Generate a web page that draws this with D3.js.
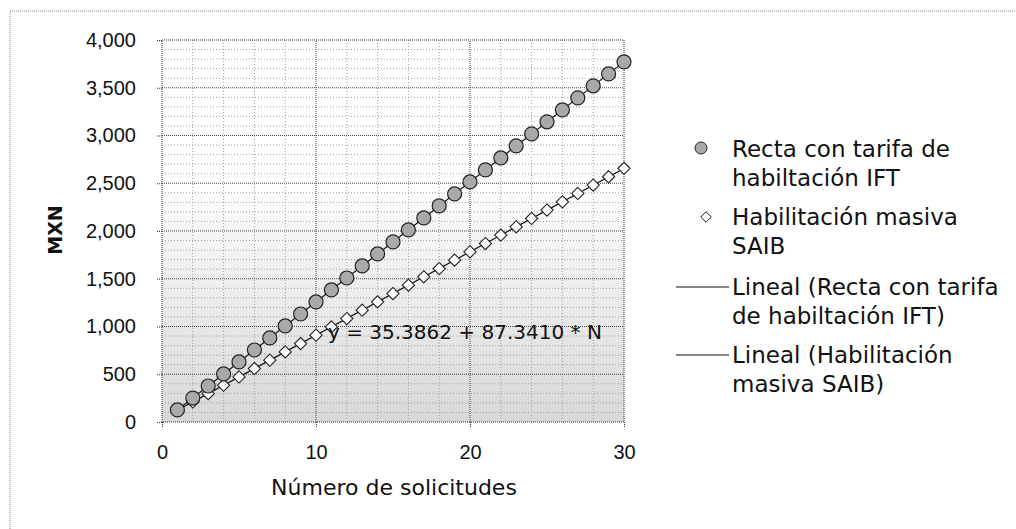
<!DOCTYPE html>
<html lang="es">
  <head>
    <meta charset="utf-8">
    <title>Recta IFT vs SAIB</title>
    <script src="https://cdn.jsdelivr.net/npm/d3@7/dist/d3.min.js"></script>
    <style>
      body { margin: 0; background: #fff; }
      svg { display: block; font-family: 'DejaVu Sans', sans-serif; }
      .tick-lbl { font-size: 20px; fill: #111; }
      .legend text { font-size: 23px; fill: #111; }
    </style>
  </head>
  <body>
    <svg></svg>
    <script>
    // datos
    var solicitudes = d3.range(1, 31);
    var rectaIFT = [126, 251, 377, 503, 629, 754, 880, 1006, 1131, 1257,
                    1383, 1508, 1634, 1760, 1886, 2011, 2137, 2263, 2388, 2514,
                    2640, 2765, 2891, 3017, 3143, 3268, 3394, 3520, 3645, 3771];
    var masivaSAIB = [123, 210, 297, 385, 472, 559, 647, 734, 821, 909,
                      996, 1083, 1171, 1258, 1345, 1433, 1520, 1607, 1695, 1782,
                      1869, 1957, 2044, 2131, 2219, 2306, 2393, 2481, 2568, 2656];
    var yTicks = [0, 500, 1000, 1500, 2000, 2500, 3000, 3500, 4000];
    var xTicks = [0, 10, 20, 30];
    var leyenda = [
      ['Recta con tarifa de', 'habiltación IFT'],
      ['Habilitación masiva', 'SAIB'],
      ['Lineal (Recta con tarifa', 'de habiltación IFT)'],
      ['Lineal (Habilitación', 'masiva SAIB)']
    ];
    var ecuacion = 'y = 35.3862 + 87.3410 * N';

    var width = 1016, height = 529;
    var svg = d3.select('svg').attr('width', width).attr('height', height);

    var x = d3.scaleLinear().domain([0, 30]).range([162, 624]);
    var y = d3.scaleLinear().domain([0, 4000]).range([422, 40]);

    // marco exterior punteado (se sale del recorte)
    svg.append('rect')
      .attr('x', 10).attr('y', 11).attr('width', 1100).attr('height', 600)
      .attr('fill', 'none').attr('stroke', '#888').attr('stroke-dasharray', '1,1');

    // fondo del area con degradado
    var grad = svg.append('defs').append('linearGradient')
      .attr('id', 'fondo').attr('x1', 0).attr('y1', 0).attr('x2', 0).attr('y2', 1);
    grad.append('stop').attr('offset', '0.35').attr('stop-color', '#ffffff');
    grad.append('stop').attr('offset', '1').attr('stop-color', '#d8d8d8');

    svg.append('rect')
      .attr('x', x(0)).attr('y', y(4000))
      .attr('width', x(30) - x(0)).attr('height', y(0) - y(4000))
      .attr('fill', 'url(#fondo)');

    var g = svg.append('g');

    // rejilla menor
    g.selectAll('.hmin').data(d3.range(100, 4000, 100).filter(function(d){ return d % 500; }))
      .enter().append('line')
      .attr('x1', x(0)).attr('x2', x(30))
      .attr('y1', function(d){ return y(d); }).attr('y2', function(d){ return y(d); })
      .attr('stroke', '#a0a0a0').attr('stroke-dasharray', '1,2');
    g.selectAll('.vmin').data(d3.range(2, 30, 2).filter(function(d){ return d % 10; }))
      .enter().append('line')
      .attr('y1', y(0)).attr('y2', y(4000))
      .attr('x1', function(d){ return x(d); }).attr('x2', function(d){ return x(d); })
      .attr('stroke', '#a0a0a0').attr('stroke-dasharray', '1,2');

    // rejilla mayor
    g.selectAll('.hmaj').data(yTicks.slice(1, -1))
      .enter().append('line')
      .attr('x1', x(0)).attr('x2', x(30))
      .attr('y1', function(d){ return y(d); }).attr('y2', function(d){ return y(d); })
      .attr('stroke', '#444').attr('stroke-dasharray', '1,1');
    g.selectAll('.vmaj').data([10, 20])
      .enter().append('line')
      .attr('y1', y(0)).attr('y2', y(4000))
      .attr('x1', function(d){ return x(d); }).attr('x2', function(d){ return x(d); })
      .attr('stroke', '#444').attr('stroke-dasharray', '1,1');

    // borde del area
    g.append('rect')
      .attr('x', x(0)).attr('y', y(4000))
      .attr('width', x(30) - x(0)).attr('height', y(0) - y(4000))
      .attr('fill', 'none').attr('stroke', '#333').attr('stroke-dasharray', '1,1');

    // ejes
    var yAxis = d3.axisLeft(y).tickValues(yTicks).tickSize(6).tickPadding(18)
      .tickFormat(d3.format(','));
    var ya = svg.append('g').attr('transform', 'translate(' + x(0) + ',0)').call(yAxis);
    var xAxis = d3.axisBottom(x).tickValues(xTicks).tickSize(6).tickPadding(17);
    var xa = svg.append('g').attr('transform', 'translate(0,' + y(0) + ')').call(xAxis);
    [ya, xa].forEach(function(a){
      a.select('.domain').remove();
      a.selectAll('.tick line').attr('stroke', '#333').attr('stroke-dasharray', '1,1');
      a.selectAll('.tick text').attr('class', 'tick-lbl').attr('font-family', null).attr('font-size', null);
    });
    ya.selectAll('.tick text').attr('dx', '-2');

    // titulos de ejes
    svg.append('text')
      .attr('x', 394).attr('y', 495).attr('text-anchor', 'middle')
      .style('font-size', '22px').attr('fill', '#111')
      .text('Número de solicitudes');
    svg.append('text')
      .attr('transform', 'translate(62,230) rotate(-90)').attr('text-anchor', 'middle')
      .style('font-size', '19px').style('font-weight', 'bold').attr('fill', '#111')
      .text('MXN');

    // rectas de tendencia (minimos cuadrados)
    function ajuste(vals) {
      var mx = d3.mean(solicitudes), my = d3.mean(vals);
      var b = d3.sum(solicitudes, function(n, i){ return (n - mx) * (vals[i] - my); }) /
              d3.sum(solicitudes, function(n){ return (n - mx) * (n - mx); });
      var a = my - b * mx;
      return [1, 30].map(function(n){ return [x(n), y(a + b * n)]; });
    }
    var linea = d3.line();
    [rectaIFT, masivaSAIB].forEach(function(s){
      g.append('path').attr('d', linea(ajuste(s)))
        .attr('stroke', '#111').attr('stroke-width', 1.2).attr('fill', 'none');
    });

    // marcadores
    g.selectAll('.dia').data(masivaSAIB).enter().append('path')
      .attr('d', d3.symbol().type(d3.symbolDiamond2).size(95))
      .attr('transform', function(d, i){ return 'translate(' + x(solicitudes[i]) + ',' + y(d) + ')'; })
      .attr('fill', '#fff').attr('stroke', '#222').attr('stroke-width', 1.1);
    g.selectAll('.circ').data(rectaIFT).enter().append('circle')
      .attr('cx', function(d, i){ return x(solicitudes[i]); })
      .attr('cy', function(d){ return y(d); })
      .attr('r', 7)
      .attr('fill', '#a9a9a9').attr('stroke', '#222').attr('stroke-width', 1.2);

    // ecuacion
    svg.append('text')
      .attr('x', 328).attr('y', 339)
      .style('font-size', '20px').attr('fill', '#111')
      .text(ecuacion);

    // leyenda
    var leg = svg.append('g').attr('class', 'legend');
    var filas = [157, 225, 295, 363];
    leyenda.forEach(function(l, i){
      var yy = filas[i];
      leg.append('text').attr('x', 732).attr('y', yy).text(l[0]);
      leg.append('text').attr('x', 732).attr('y', yy + 29).text(l[1]);
      if (i == 0) {
        leg.append('circle').attr('cx', 701).attr('cy', yy - 9).attr('r', 6)
          .attr('fill', '#a9a9a9').attr('stroke', '#222');
      } else if (i == 1) {
        leg.append('path').attr('d', d3.symbol().type(d3.symbolDiamond2).size(70))
          .attr('transform', 'translate(706,' + (yy - 8) + ')')
          .attr('fill', '#fff').attr('stroke', '#222');
      } else {
        leg.append('line').attr('x1', 676).attr('x2', 729)
          .attr('y1', yy - 8).attr('y2', yy - 8)
          .attr('stroke', '#111').attr('stroke-width', 1.2);
      }
    });
    </script>
  </body>
</html>
